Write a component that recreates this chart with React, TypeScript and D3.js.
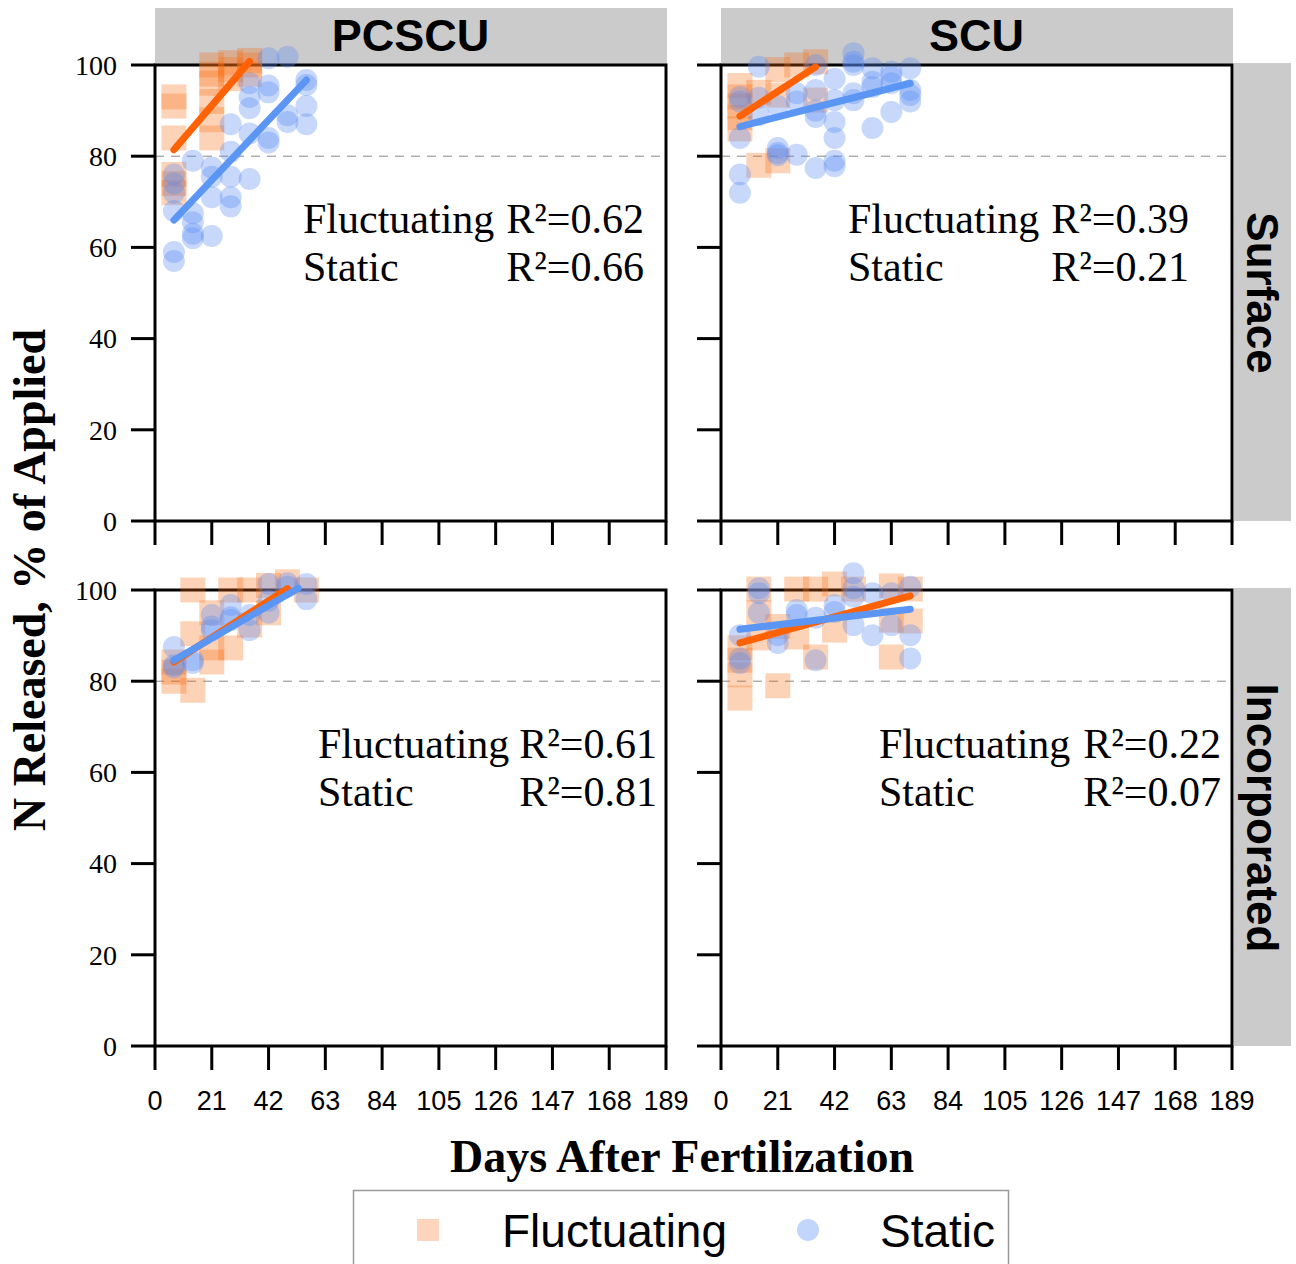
import React from "react";
import * as d3 from "d3";

// days after fertilization, % N released
const pcscuSurfFluct: [number, number][] = [
  [7, 93], [7, 91], [7, 84], [7, 76], [7, 74], [7, 72],
  [21, 100], [21, 98], [21, 96], [21, 92], [21, 88], [21, 84],
  [28, 100.5], [28, 99], [28, 97], [35, 101], [35, 100], [35, 98],
];
const pcscuSurfStatic: [number, number][] = [
  [7, 76], [7, 74], [7, 72], [7, 68], [7, 59], [7, 57],
  [14, 79], [14, 67.5], [14, 65.5], [14, 63], [14, 62],
  [21, 77.5], [21, 75.5], [21, 71], [21, 62.5],
  [28, 87], [28, 81], [28, 75.5], [28, 71], [28, 69],
  [35, 96], [35, 93], [35, 90.5], [35, 85], [35, 75],
  [42, 101.5], [42, 95.5], [42, 94], [42, 84], [42, 83],
  [49, 101.8], [49, 89], [49, 87.5],
  [56, 96.7], [56, 95.6], [56, 91], [56, 87],
];
const scuSurfFluct: [number, number][] = [
  [7, 95.5], [7, 93], [7, 91], [7, 88.5], [7, 86],
  [14, 94], [14, 78], [21, 99], [21, 93.4], [21, 79],
  [28, 100], [35, 100.7], [35, 92.3],
];
const scuSurfStatic: [number, number][] = [
  [7, 93], [7, 92], [7, 84], [7, 76], [7, 72],
  [14, 99.6], [14, 92.8], [14, 89],
  [21, 91], [21, 81.8], [21, 80.7], [21, 80.2],
  [28, 93.8], [28, 92], [28, 80.3],
  [35, 100], [35, 94.5], [35, 90], [35, 88.6], [35, 77.4],
  [42, 97], [42, 92.3], [42, 87.5], [42, 84], [42, 79], [42, 77.8],
  [49, 102.6], [49, 100.7], [49, 100], [49, 93.8], [49, 92.3],
  [56, 99.3], [56, 96.3], [56, 95.2], [56, 86.2],
  [63, 98.5], [63, 97.4], [63, 96], [63, 89.7],
  [70, 99.3], [70, 94.5], [70, 93.4], [70, 92],
];
const pcscuIncFluct: [number, number][] = [
  [7, 84.2], [7, 82], [7, 80], [14, 100], [14, 90.4], [14, 78],
  [21, 95], [21, 87.3], [21, 84.2], [28, 100], [28, 87.3],
  [35, 100], [35, 92.3], [42, 101], [42, 95], [49, 101.8], [56, 100],
];
const pcscuIncStatic: [number, number][] = [
  [7, 87.5], [7, 83.5], [7, 83], [14, 84.6], [14, 84],
  [21, 94.5], [21, 92], [21, 91.2], [28, 96.7], [28, 94], [28, 93.4],
  [35, 94.5], [35, 91.2], [42, 101.3], [42, 97.6], [42, 95],
  [49, 101.5], [49, 100.7], [56, 101.3], [56, 98],
];
const scuIncFluct: [number, number][] = [
  [7, 87.3], [7, 84.6], [7, 81.4], [7, 76.3],
  [14, 100.2], [14, 95], [14, 89.5], [21, 92], [21, 79],
  [28, 100.2], [28, 89.7], [35, 100.2], [35, 85.3],
  [42, 101.3], [42, 91.2], [49, 100.2],
  [63, 100.9], [63, 93.4], [63, 85.3], [70, 100.2], [70, 93.2],
];
const scuIncStatic: [number, number][] = [
  [7, 90.1], [7, 85], [7, 84], [14, 100.4], [14, 99.3], [14, 95],
  [21, 90.1], [21, 88.4], [28, 95.6], [28, 94.5], [35, 93.9], [35, 84.6],
  [42, 96.7], [42, 95.2], [49, 103.7], [49, 100.4], [49, 98.5], [49, 92.3],
  [56, 99.3], [56, 90.1], [63, 99.3], [63, 92.3], [70, 100.7], [70, 90.1], [70, 85],
];

// fitted lines: [day0, value0, day1, value1]
const fitsFluct = [
  [7, 81.4, 35, 100.8],
  [7, 88.8, 35, 99.6],
  [7, 84.2, 49, 100.3],
  [7, 88.4, 70, 98.7],
];
const fitsStatic = [
  [7, 66, 56, 96.7],
  [7, 86.5, 70, 96],
  [7, 84.6, 53, 100.4],
  [7, 91.4, 70, 95.8],
];
const r2Fluct = ["0.62", "0.39", "0.61", "0.22"];
const r2Static = ["0.66", "0.21", "0.81", "0.07"];

const xTicks = [0, 21, 42, 63, 84, 105, 126, 147, 168, 189];
const yTicks = [0, 20, 40, 60, 80, 100];
const columns = ["PCSCU", "SCU"];
const rows = ["Surface", "Incorporated"];

const W = 511, H = 456;
const colX = [155, 721];
const rowY = [65, 590];
// annotation block [left x, right x] per panel
const notePos = [[303, 644], [848, 1189], [318, 657], [879, 1221]];

const serif = "'Liberation Serif', 'Times New Roman', serif";
const sans = "'Liberation Sans', Arial, sans-serif";
const ORANGE = "#ff6205";
const BLUE = "#5b96f5";

const x = d3.scaleLinear().domain([0, 189]).range([0, W]);
const y = d3.scaleLinear().domain([0, 100]).range([H, 0]);

function Panel({ idx, fl, st }: { idx: number; fl: [number, number][]; st: [number, number][] }) {
  const c = idx % 2, r = Math.floor(idx / 2);
  const x0 = colX[c], y0 = rowY[r];
  const ff = fitsFluct[idx], fs = fitsStatic[idx];
  const [nl, nr] = notePos[idx];
  const line = d3.line<[number, number]>().x(d => x(d[0])).y(d => y(d[1]));
  return (
    <g>
      <g transform={`translate(${x0},${y0})`}>
        <rect width={W} height={H} fill="white" />
        <line x1={0} x2={W} y1={y(80)} y2={y(80)} stroke="#888" strokeWidth={1} strokeDasharray="9,7" />
        <rect width={W} height={H} fill="none" stroke="black" strokeWidth={3} />
        {fl.map((d, i) => (
          <rect key={"f" + i} x={x(d[0]) - 12.5} y={y(d[1]) - 12.5} width={25} height={25}
            fill="#fa6e14" fillOpacity={0.3} />
        ))}
        {st.map((d, i) => (
          <circle key={"s" + i} cx={x(d[0])} cy={y(d[1])} r={11} fill="#5a8ef2" fillOpacity={0.34} />
        ))}
        <path d={line([[ff[0], ff[1]], [ff[2], ff[3]]])!} stroke={ORANGE} strokeWidth={7} fill="none" strokeLinecap="round" />
        <path d={line([[fs[0], fs[1]], [fs[2], fs[3]]])!} stroke={BLUE} strokeWidth={7} fill="none" strokeLinecap="round" />
        {yTicks.map(t => (
          <line key={"yt" + t} x1={-24} x2={0} y1={y(t)} y2={y(t)} stroke="black" strokeWidth={3} />
        ))}
        {c === 0 && yTicks.map(t => (
          <text key={"yl" + t} x={-38} y={y(t)} dy="0.35em" textAnchor="end" fontFamily={serif} fontSize={28}>{t}</text>
        ))}
        {xTicks.map(t => (
          <line key={"xt" + t} x1={x(t)} x2={x(t)} y1={H} y2={H + 24} stroke="black" strokeWidth={3} />
        ))}
        {r === 1 && xTicks.map(t => (
          <text key={"xl" + t} x={x(t)} y={H + 64} textAnchor="middle" fontFamily={sans} fontSize={27}>{t}</text>
        ))}
      </g>
      <g fontFamily={serif} fontSize={42}>
        <text x={nl} y={y0 + 168}>Fluctuating</text>
        <text x={nr} y={y0 + 168} textAnchor="end">R²={r2Fluct[idx]}</text>
        <text x={nl} y={y0 + 216}>Static</text>
        <text x={nr} y={y0 + 216} textAnchor="end">R²={r2Static[idx]}</text>
      </g>
    </g>
  );
}

export default function App() {
  const sets = [
    [pcscuSurfFluct, pcscuSurfStatic],
    [scuSurfFluct, scuSurfStatic],
    [pcscuIncFluct, pcscuIncStatic],
    [scuIncFluct, scuIncStatic],
  ];
  return (
    <div style={{ position: "absolute", left: 0, top: 0 }}>
      <svg width={1296} height={1264} style={{ display: "block", background: "white" }}>
        {columns.map((c, i) => (
          <g key={c}>
            <rect x={colX[i]} y={8} width={W + 1} height={57} fill="#cbcbcb" />
            <text x={colX[i] + W / 2} y={51} textAnchor="middle" fontFamily={sans} fontWeight="bold" fontSize={45}>{c}</text>
          </g>
        ))}
        {rows.map((r, i) => (
          <g key={r}>
            <rect x={1234} y={rowY[i] - 2} width={57} height={H + 2} fill="#cbcbcb" />
            <text transform={`translate(${1247},${rowY[i] + H / 2}) rotate(90)`} textAnchor="middle"
              fontFamily={sans} fontWeight="bold" fontSize={44}>{r}</text>
          </g>
        ))}
        {sets.map((s, i) => (
          <Panel key={i} idx={i} fl={s[0]} st={s[1]} />
        ))}
        <text x={682} y={1172} textAnchor="middle" fontFamily={serif} fontWeight="bold" fontSize={46}>Days After Fertilization</text>
        <text transform="translate(45,580) rotate(-90)" textAnchor="middle" fontFamily={serif} fontWeight="bold" fontSize={46}>N Released, % of Applied</text>
        <rect x={353.5} y={1190.5} width={655} height={90} fill="white" stroke="#999" strokeWidth={1.5} />
        <rect x={417} y={1219} width={22} height={22} fill="#fdd5bc" />
        <text x={502} y={1247} fontFamily={sans} fontSize={46}>Fluctuating</text>
        <circle cx={808} cy={1230} r={11} fill="#c2d6fb" />
        <text x={880} y={1247} fontFamily={sans} fontSize={46}>Static</text>
      </svg>
    </div>
  );
}
